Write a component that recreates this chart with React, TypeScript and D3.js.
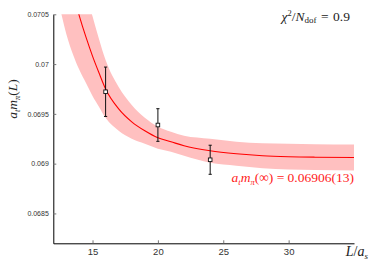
import { useEffect, useRef } from 'react'
import * as d3 from 'd3'

// lattice data: L/a_s and a_t m_pi(L)
const boxSizes = [16, 20, 24]
const pionMass = [0.069722, 0.069388, 0.069039]
const massError = [0.000248, 0.000164, 0.000146]

// fit curve and its error band
const fitL = [12.5, 13, 13.5, 14, 14.5, 15, 15.5, 16, 17, 18, 19, 20, 21, 22, 24, 26, 28, 30, 32, 35]
const fitMass = [
  0.07136, 0.071, 0.07072, 0.07048, 0.07027, 0.07008, 0.06991, 0.06975, 0.06955, 0.06942,
  0.06933, 0.06926, 0.06922, 0.06918, 0.06913, 0.0691, 0.06908, 0.06907, 0.069065, 0.069062,
]
const fitLow = [
  0.07057, 0.0703, 0.0701, 0.06994, 0.06981, 0.06968, 0.06957, 0.06946, 0.06933, 0.06925,
  0.0692, 0.06915, 0.06912, 0.06908, 0.06901, 0.06898, 0.068955, 0.06894, 0.068935, 0.068932,
]
const fitHigh = [
  0.07218, 0.0717, 0.07134, 0.07102, 0.07073, 0.07048, 0.07025, 0.07004, 0.06977, 0.06959,
  0.06946, 0.06937, 0.06932, 0.06928, 0.06925, 0.06922, 0.069205, 0.0692, 0.069195, 0.069192,
]

const xTicks = [15, 20, 25, 30]
const yTicks = [0.0685, 0.069, 0.0695, 0.07, 0.0705]
const yTickLabels = ['0.0685', '0.069', '0.0695', '0.07', '0.0705']

const width = 374
const height = 266
const margin = { top: 14.3, right: 20, bottom: 22.7, left: 53.3 }
const serif = '"Liberation Serif", "DejaVu Serif", serif'

export default function App() {
  const ref = useRef<SVGGElement | null>(null)

  useEffect(() => {
    if (!ref.current) {return}
    const g = d3.select(ref.current)
    g.selectAll('*').remove()

    const x = d3.scaleLinear().domain([12, 35]).range([margin.left, width - margin.right])
    const y = d3.scaleLinear().domain([0.0682, 0.0705]).range([height - margin.bottom, margin.top])

    g.append('clipPath')
      .attr('id', 'plot-clip')
      .append('rect')
      .attr('x', x(12))
      .attr('y', y(0.0705))
      .attr('width', x(35) - x(12))
      .attr('height', y(0.0682) - y(0.0705))

    const fit = fitL.map((L, i) => ({ L, m: fitMass[i], lo: fitLow[i], hi: fitHigh[i] }))

    const band = d3
      .area<typeof fit[number]>()
      .x((d) => x(d.L))
      .y0((d) => y(d.lo))
      .y1((d) => y(d.hi))
      .curve(d3.curveMonotoneX)

    const line = d3
      .line<typeof fit[number]>()
      .x((d) => x(d.L))
      .y((d) => y(d.m))
      .curve(d3.curveMonotoneX)

    const plot = g.append('g').attr('clip-path', 'url(#plot-clip)')
    plot.append('path').datum(fit).attr('fill', '#ffc0c0').attr('d', band)
    plot
      .append('path')
      .datum(fit)
      .attr('fill', 'none')
      .attr('stroke', '#ff0000')
      .attr('stroke-width', 1.1)
      .attr('d', line)

    // axes, ticks pointing inward
    const xAxis = g
      .append('g')
      .attr('transform', `translate(0,${y(0.0682)})`)
      .call(d3.axisBottom(x).tickValues(xTicks).tickSizeInner(-3).tickSizeOuter(0).tickPadding(5))
    xAxis.select('.domain').attr('stroke', '#000')
    xAxis.selectAll('.tick line').attr('stroke', '#777')
    xAxis.selectAll('text').attr('fill', '#333').style('font-size', '9.5px').style('font-family', 'Liberation Sans, Arial, sans-serif')

    const yAxis = g
      .append('g')
      .attr('transform', `translate(${x(12)},0)`)
      .call(
        d3
          .axisLeft(y)
          .tickValues(yTicks)
          .tickFormat((_, i) => yTickLabels[i])
          .tickSizeInner(-3)
          .tickSizeOuter(0)
          .tickPadding(4.5),
      )
    yAxis.select('.domain').attr('stroke', '#000')
    yAxis.selectAll('.tick line').attr('stroke', '#777')
    yAxis.selectAll('text').attr('fill', '#333').style('font-size', '7px').style('font-family', 'Liberation Sans, Arial, sans-serif')

    // data points with error bars
    const pts = boxSizes.map((L, i) => ({ L, m: pionMass[i], e: massError[i] }))
    const pg = g.append('g').selectAll('g').data(pts).join('g')
    pg.append('line')
      .attr('x1', (d) => x(d.L))
      .attr('x2', (d) => x(d.L))
      .attr('y1', (d) => y(d.m + d.e))
      .attr('y2', (d) => y(d.m - d.e))
      .attr('stroke', '#111')
      .attr('stroke-width', 1)
    for (const s of [1, -1]) {
      pg.append('line')
        .attr('x1', (d) => x(d.L) - 1.6)
        .attr('x2', (d) => x(d.L) + 1.6)
        .attr('y1', (d) => y(d.m + s * d.e))
        .attr('y2', (d) => y(d.m + s * d.e))
        .attr('stroke', '#111')
        .attr('stroke-width', 1)
    }
    pg.append('rect')
      .attr('x', (d) => x(d.L) - 1.8)
      .attr('y', (d) => y(d.m) - 1.8)
      .attr('width', 3.6)
      .attr('height', 3.6)
      .attr('fill', '#fff')
      .attr('stroke', '#111')
      .attr('stroke-width', 0.9)
  }, [])

  return (
    <svg
      width={width}
      height={height}
      style={{ position: 'absolute', left: 0, top: 0, background: '#fff' }}
    >
      <g ref={ref} />
      <text x={350} y={20.5} textAnchor="end" fontFamily={serif} fontSize={13.5} fill="#222">
        <tspan fontStyle="italic">χ</tspan>
        <tspan dy={-5} fontSize={8.5}>2</tspan>
        <tspan dy={5}>/</tspan>
        <tspan fontStyle="italic">N</tspan>
        <tspan dy={2.5} fontSize={9}>dof</tspan>
        <tspan dy={-2.5}>{'\u2004=\u20040.9'}</tspan>
      </text>
      <text x={354} y={182} textAnchor="end" fontFamily={serif} fontSize={13.5} fill="#ff1a1a">
        <tspan fontStyle="italic">a</tspan>
        <tspan dy={2.5} fontSize={8.5} fontStyle="italic">t</tspan>
        <tspan dy={-2.5} fontStyle="italic">m</tspan>
        <tspan dy={2.5} fontSize={8.5} fontStyle="italic">π</tspan>
        <tspan dy={-2.5}>{'(∞)\u2005=\u20050.06906(13)'}</tspan>
      </text>
      <text x={368} y={256} textAnchor="end" fontFamily={serif} fontSize={14} fill="#222">
        <tspan fontStyle="italic">L</tspan>
        <tspan>/</tspan>
        <tspan fontStyle="italic">a</tspan>
        <tspan dy={2.5} fontSize={9} fontStyle="italic">s</tspan>
      </text>
      <text
        transform="translate(17,99) rotate(-90)"
        textAnchor="middle"
        fontFamily={serif}
        fontSize={13.5}
        fill="#222"
      >
        <tspan fontStyle="italic">a</tspan>
        <tspan dy={2.5} fontSize={8.5} fontStyle="italic">t</tspan>
        <tspan dy={-2.5} fontStyle="italic">m</tspan>
        <tspan dy={2.5} fontSize={8.5} fontStyle="italic">π</tspan>
        <tspan dy={-2.5}>(</tspan>
        <tspan fontStyle="italic">L</tspan>
        <tspan>)</tspan>
      </text>
    </svg>
  )
}
